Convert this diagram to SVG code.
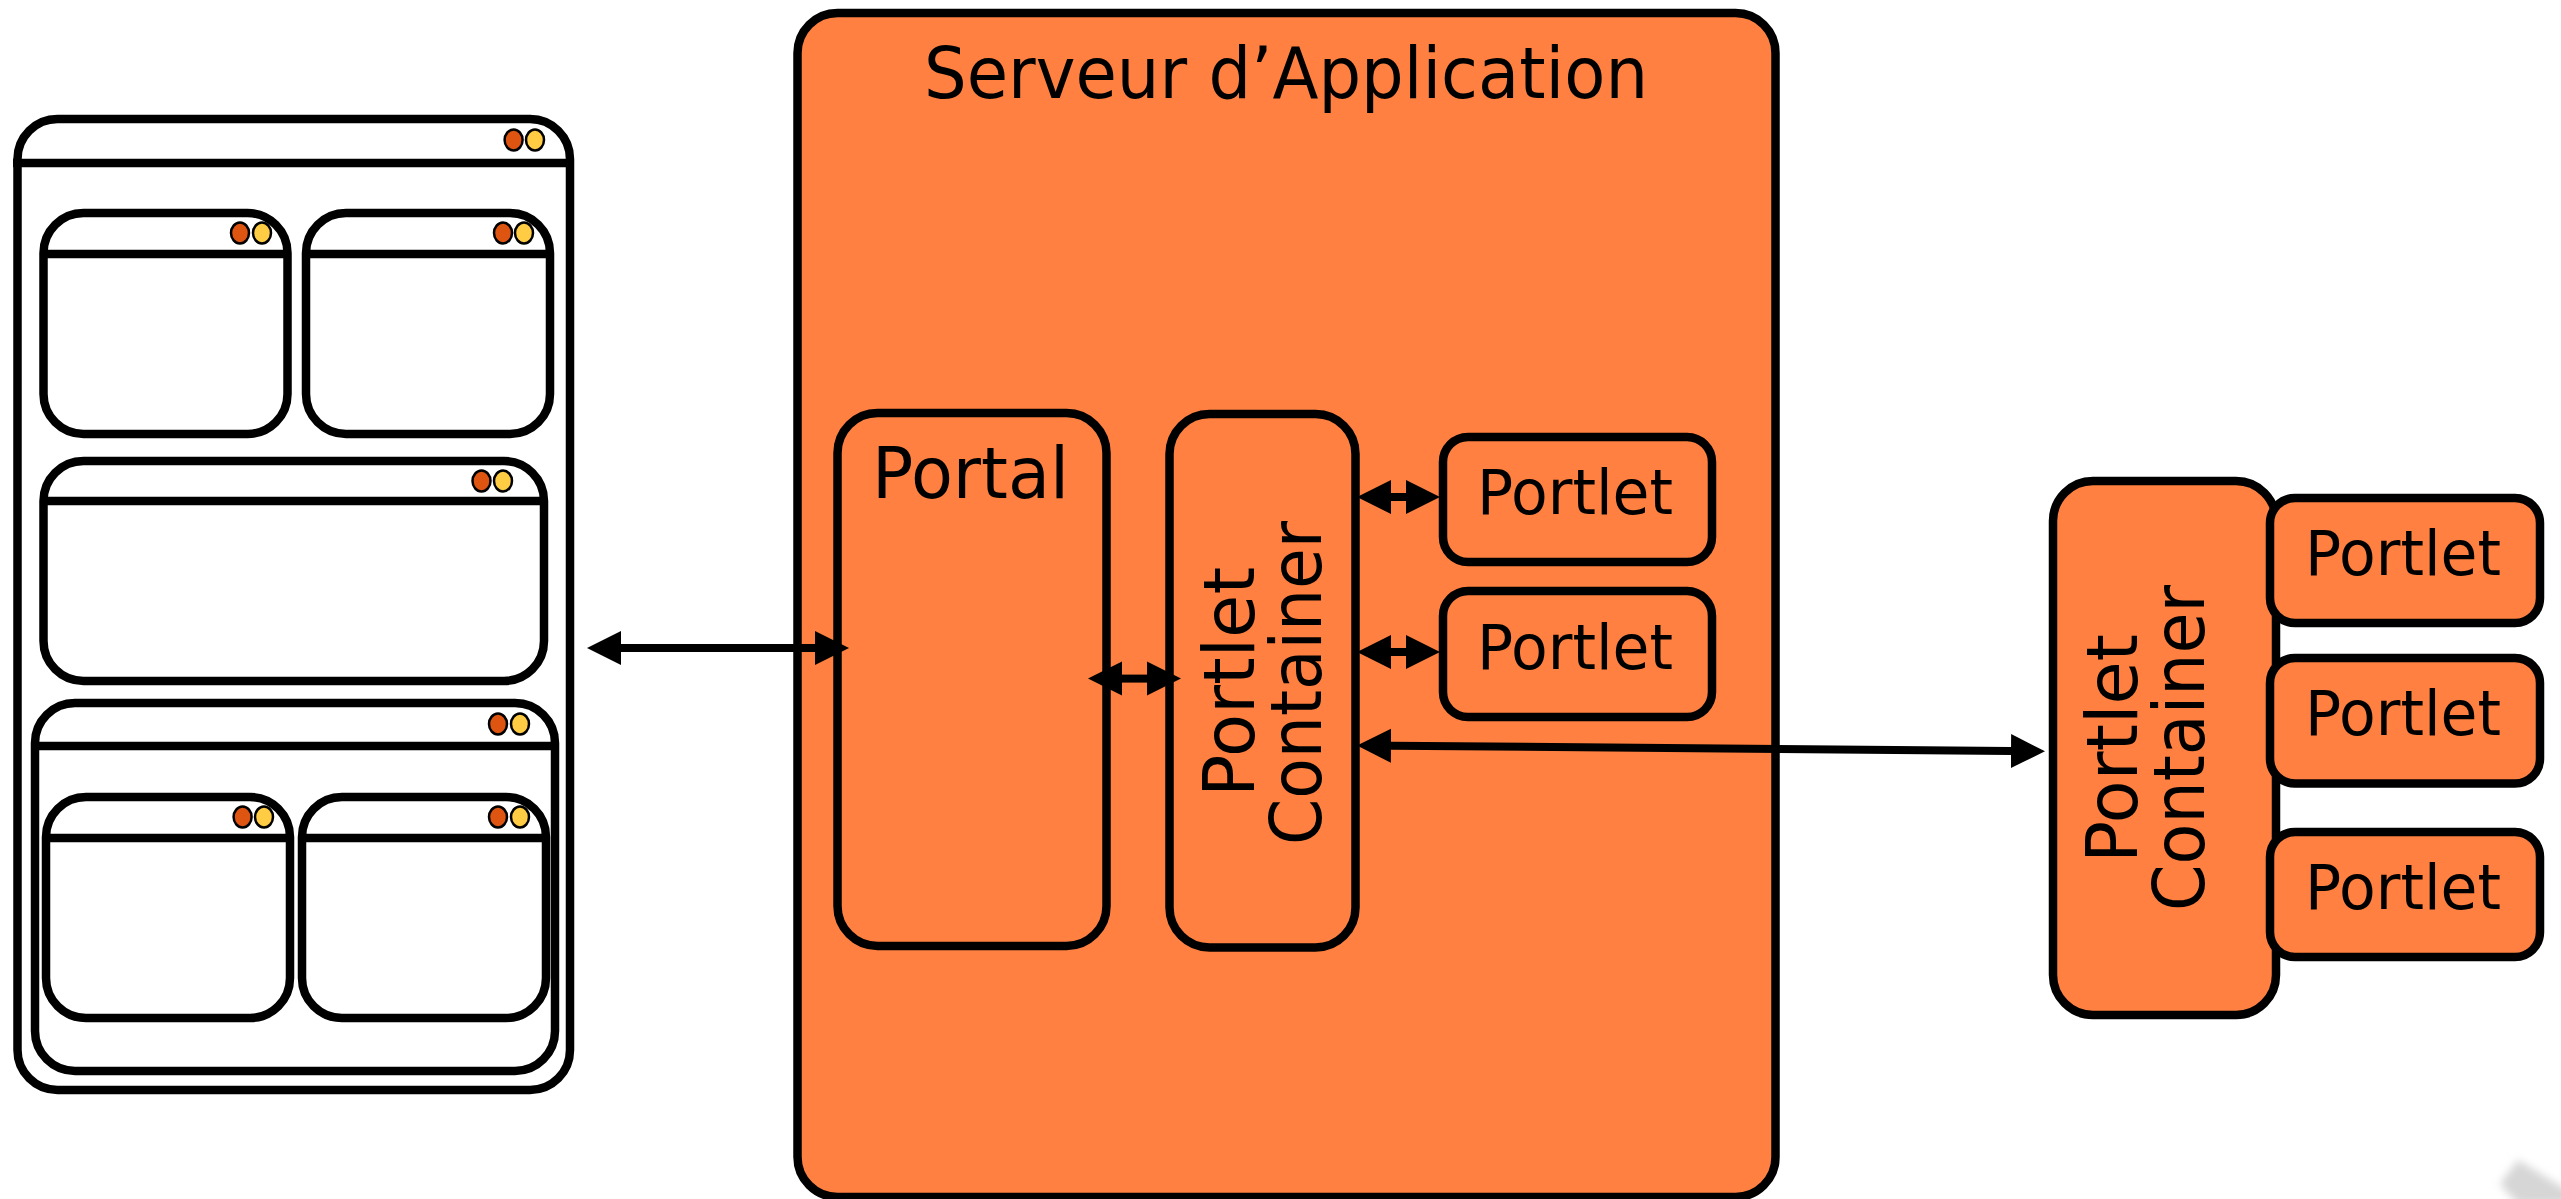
<svg xmlns="http://www.w3.org/2000/svg" width="2561" height="1199" viewBox="0 0 2561 1199">
<style>
.win{fill:#fff;stroke:#000;stroke-width:8.5}
.box{fill:#FF8040;stroke:#000;stroke-width:8.5}
.bar{stroke:#000;stroke-width:8.5;fill:none}
.red{fill:#DD5511;stroke:#000;stroke-width:2.5}
.yel{fill:#FFCC44;stroke:#000;stroke-width:2.5}
.con{stroke:#000;stroke-width:8;fill:none;marker-start:url(#h);marker-end:url(#h)}
text{font-family:"DejaVu Sans","Liberation Sans",sans-serif;fill:#000}
.t1{font-size:72px}
.t2{font-size:62px}
.t3{font-size:72px}
</style>
<defs>
<marker id="h" markerUnits="userSpaceOnUse" markerWidth="36" markerHeight="36" refX="0" refY="18" orient="auto-start-reverse"><path d="M0 1L34 18L0 35Z" fill="#000"/></marker>
<filter id="soft" x="-30%" y="-30%" width="160%" height="160%"><feGaussianBlur stdDeviation="4"/></filter>
</defs>
<rect width="2561" height="1199" fill="#fff"/>
<path id="corner-mark" d="M2518 1160L2500 1184L2518 1204H2575V1195Z" fill="#d6d6d6" filter="url(#soft)"/>

<g id="browser">
<rect class="win" x="17.5" y="119" width="552.5" height="971" rx="40" ry="40"/>
<path class="bar" d="M13 163H574"/>
<ellipse class="red" cx="513.6" cy="140" rx="9" ry="10.5"/><ellipse class="yel" cx="535" cy="140" rx="9" ry="10.5"/>
</g>
<g id="window-1">
<rect class="win" x="43.5" y="213" width="244" height="221" rx="40" ry="40"/>
<path class="bar" d="M43.5 254H287.5"/>
<ellipse class="red" cx="240" cy="233" rx="9" ry="10.5"/><ellipse class="yel" cx="262" cy="233" rx="9" ry="10.5"/>
</g>
<g id="window-2">
<rect class="win" x="306" y="213" width="244" height="221" rx="40" ry="40"/>
<path class="bar" d="M306 254H550"/>
<ellipse class="red" cx="503" cy="233" rx="9" ry="10.5"/><ellipse class="yel" cx="524" cy="233" rx="9" ry="10.5"/>
</g>
<g id="window-3">
<rect class="win" x="43.5" y="461" width="500.5" height="220" rx="40" ry="40"/>
<path class="bar" d="M43.5 501H544"/>
<ellipse class="red" cx="481.5" cy="481" rx="9" ry="10.5"/><ellipse class="yel" cx="503" cy="481" rx="9" ry="10.5"/>
</g>
<g id="window-4">
<rect class="win" x="35" y="703" width="520" height="368" rx="40" ry="40"/>
<path class="bar" d="M35 746H555"/>
<ellipse class="red" cx="498" cy="724" rx="9" ry="10.5"/><ellipse class="yel" cx="520" cy="724" rx="9" ry="10.5"/>
</g>
<g id="window-5">
<rect class="win" x="46" y="797" width="244" height="221" rx="40" ry="40"/>
<path class="bar" d="M46 838H290"/>
<ellipse class="red" cx="242.6" cy="817" rx="9" ry="10.5"/><ellipse class="yel" cx="264" cy="817" rx="9" ry="10.5"/>
</g>
<g id="window-6">
<rect class="win" x="302" y="797" width="244" height="221" rx="40" ry="40"/>
<path class="bar" d="M302 838H546"/>
<ellipse class="red" cx="498" cy="817" rx="9" ry="10.5"/><ellipse class="yel" cx="520" cy="817" rx="9" ry="10.5"/>
</g>

<g id="server">
<rect class="box" x="797.5" y="13" width="978" height="1184" rx="40" ry="40"/>
<text class="t1" x="924" y="98" textLength="724" lengthAdjust="spacingAndGlyphs">Serveur d’Application</text>
</g>
<g id="portal">
<rect class="box" x="837.5" y="413" width="269" height="533" rx="40" ry="40"/>
<text class="t3" x="872" y="497.5" textLength="197" lengthAdjust="spacingAndGlyphs">Portal</text>
</g>
<g id="container-1">
<rect class="box" x="1169.5" y="414" width="186" height="533.5" rx="40" ry="40"/>
<text class="t3" transform="translate(1254 797) rotate(-90)" textLength="230" lengthAdjust="spacingAndGlyphs">Portlet</text>
<text class="t3" transform="translate(1321 845) rotate(-90)" textLength="324" lengthAdjust="spacingAndGlyphs">Container</text>
</g>
<g id="portlet-1">
<rect class="box" x="1443" y="437" width="269" height="125" rx="25" ry="25"/>
<text class="t2" x="1477" y="513.6" textLength="196" lengthAdjust="spacingAndGlyphs">Portlet</text>
</g>
<g id="portlet-2">
<rect class="box" x="1443" y="591" width="269" height="126" rx="25" ry="25"/>
<text class="t2" x="1477" y="668.6" textLength="196" lengthAdjust="spacingAndGlyphs">Portlet</text>
</g>

<g id="container-2">
<rect class="box" x="2053" y="481" width="223" height="534" rx="40" ry="40"/>
<text class="t3" transform="translate(2137 863) rotate(-90)" textLength="229" lengthAdjust="spacingAndGlyphs">Portlet</text>
<text class="t3" transform="translate(2204 911) rotate(-90)" textLength="326" lengthAdjust="spacingAndGlyphs">Container</text>
</g>
<g id="portlet-3">
<rect class="box" x="2270" y="498" width="270" height="125" rx="25" ry="25"/>
<text class="t2" x="2305" y="574.6" textLength="196" lengthAdjust="spacingAndGlyphs">Portlet</text>
</g>
<g id="portlet-4">
<rect class="box" x="2270" y="658" width="270" height="125.6" rx="25" ry="25"/>
<text class="t2" x="2305" y="735" textLength="196" lengthAdjust="spacingAndGlyphs">Portlet</text>
</g>
<g id="portlet-5">
<rect class="box" x="2270" y="832" width="270" height="125" rx="25" ry="25"/>
<text class="t2" x="2305" y="908.6" textLength="196" lengthAdjust="spacingAndGlyphs">Portlet</text>
</g>

<g id="connectors">
<line class="con" x1="621" y1="648" x2="815" y2="648"/>
<line class="con" x1="1122" y1="678.6" x2="1147" y2="678.6"/>
<line class="con" x1="1391" y1="497" x2="1406" y2="497"/>
<line class="con" x1="1391" y1="652" x2="1406" y2="652"/>
<line class="con" x1="1391" y1="745.7" x2="2011" y2="751"/>
</g>
</svg>
